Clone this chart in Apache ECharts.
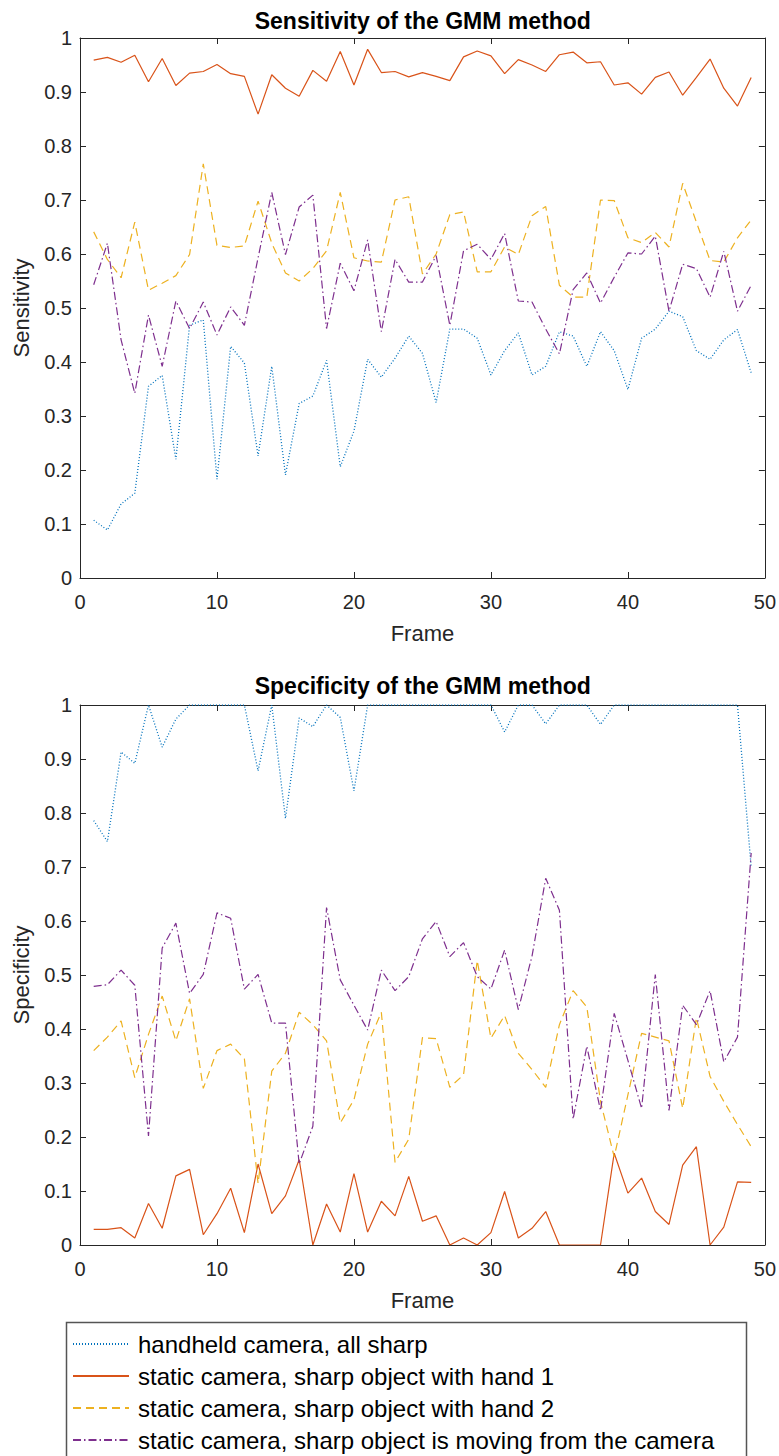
<!DOCTYPE html>
<html><head><meta charset="utf-8">
<script src="https://cdn.jsdelivr.net/npm/echarts@6/dist/echarts.min.js"></script>
<style>html,body{margin:0;padding:0;background:#fff;} #c{width:779px;height:1456px;}</style>
</head><body><div id="c"></div>
<script>
const frames = [1,2,3,4,5,6,7,8,9,10,11,12,13,14,15,16,17,18,19,20,21,22,23,24,25,26,27,28,29,30,31,32,33,34,35,36,37,38,39,40,41,42,43,44,45,46,47,48,49];
const seriesNames = ['handheld camera, all sharp','static camera, sharp object with hand 1','static camera, sharp object with hand 2','static camera, sharp object is moving from the camera'];
const yTicks = ['0','0.1','0.2','0.3','0.4','0.5','0.6','0.7','0.8','0.9','1'];

// Sensitivity
const sensHandheld = [0.107,0.089,0.137,0.157,0.355,0.375,0.220,0.468,0.478,0.183, 0.429,0.398,0.226,0.392,0.191,0.323,0.337,0.403,0.206,0.272, 0.405,0.372,0.407,0.448,0.416,0.325,0.461,0.461,0.444,0.376, 0.421,0.454,0.376,0.392,0.456,0.448,0.392,0.456,0.421,0.349, 0.444,0.461,0.494,0.484,0.421,0.405,0.441,0.460,0.380];
const sensHand1 = [0.959,0.964,0.955,0.968,0.919,0.962,0.912,0.935,0.938,0.951, 0.934,0.929,0.859,0.932,0.907,0.892,0.940,0.920,0.975,0.913, 0.979,0.936,0.938,0.928,0.936,0.929,0.921,0.965,0.976,0.967, 0.934,0.960,0.950,0.938,0.969,0.974,0.954,0.956,0.913,0.917, 0.896,0.927,0.937,0.894,0.927,0.961,0.907,0.874,0.927];
const sensHand2 = [0.641,0.590,0.556,0.659,0.533,0.546,0.560,0.599,0.767,0.616, 0.612,0.615,0.698,0.620,0.565,0.550,0.573,0.606,0.714,0.593, 0.587,0.585,0.700,0.706,0.563,0.600,0.673,0.678,0.567,0.567, 0.613,0.599,0.671,0.688,0.542,0.520,0.520,0.700,0.699,0.630, 0.621,0.640,0.613,0.731,0.659,0.588,0.585,0.630,0.663];
const sensMoving = [0.543,0.620,0.441,0.342,0.487,0.392,0.513,0.462,0.511,0.450, 0.502,0.468,0.593,0.714,0.599,0.687,0.709,0.462,0.583,0.532, 0.626,0.456,0.590,0.548,0.548,0.597,0.468,0.606,0.618,0.590, 0.638,0.513,0.511,0.461,0.415,0.534,0.565,0.509,0.557,0.602, 0.600,0.633,0.494,0.581,0.573,0.520,0.605,0.494,0.542];

// Specificity
const specHandheld = [0.786,0.747,0.913,0.892,1.0,0.922,0.974,1.0,1.0,1.0, 1.0,1.0,0.878,1.0,0.790,0.976,0.960,1.0,0.977,0.841, 1.0,1.0,1.0,1.0,1.0,1.0,1.0,1.0,1.0,1.0, 0.950,1.0,1.0,0.965,1.0,1.0,1.0,0.964,1.0,1.0, 1.0,1.0,1.0,1.0,1.0,1.0,1.0,1.0,0.700];
const specHand1 = [0.029,0.029,0.032,0.013,0.077,0.031,0.128,0.140,0.019,0.058, 0.105,0.023,0.150,0.058,0.091,0.158,0.0,0.076,0.024,0.132, 0.024,0.081,0.054,0.127,0.044,0.054,0.0,0.013,0.0,0.023, 0.099,0.013,0.031,0.062,0.0,0.0,0.0,0.0,0.170,0.096, 0.124,0.062,0.038,0.148,0.182,0.0,0.033,0.117,0.116];
const specHand2 = [0.360,0.385,0.415,0.310,0.390,0.461,0.378,0.456,0.290,0.360, 0.372,0.345,0.114,0.322,0.355,0.431,0.408,0.378,0.226,0.269, 0.372,0.431,0.153,0.196,0.384,0.382,0.292,0.315,0.527,0.383, 0.425,0.355,0.325,0.292,0.408,0.471,0.441,0.266,0.163,0.278, 0.392,0.385,0.378,0.253,0.421,0.312,0.266,0.223,0.182];
const specMoving = [0.479,0.482,0.509,0.481,0.202,0.550,0.596,0.466,0.501,0.615, 0.605,0.474,0.501,0.411,0.411,0.150,0.220,0.625,0.491,0.444, 0.398,0.509,0.471,0.497,0.567,0.599,0.534,0.560,0.497,0.474, 0.546,0.436,0.535,0.679,0.620,0.233,0.368,0.249,0.429,0.342, 0.253,0.501,0.249,0.444,0.408,0.471,0.339,0.385,0.726];

const colors = ['#0072BD','#D95319','#EDB120','#7E2F8E'];
const dashes = [[1,2],'solid',[8,5],[8,3,1.5,3]];
const widths = [1.3,1.2,1.2,1.2];
const FONT = '"Liberation Sans", Arial, Helvetica, sans-serif';
const AX = '#262626';

function xAxis(grid, pos, main) {
  return {
    type:'value', gridIndex:grid, position:pos, min:0, max:50, interval:10,
    axisLine:{show:true, onZero:false, lineStyle:{color:AX, width:1}},
    axisTick:{show:true, inside:true, length:6, lineStyle:{color:AX}},
    axisLabel:{show:main, fontSize:20, color:AX, fontFamily:FONT, margin:14},
    splitLine:{show:false},
    name: main ? 'Frame' : '', nameLocation:'middle', nameGap:44,
    nameTextStyle:{fontSize:22, color:AX, fontFamily:FONT}
  };
}
function yAxis(grid, pos, main, name) {
  return {
    type:'value', gridIndex:grid, position:pos, min:0, max:1, interval:0.1,
    axisLine:{show:true, onZero:false, lineStyle:{color:AX, width:1}},
    axisTick:{show:true, inside:true, length:6, lineStyle:{color:AX}},
    axisLabel:{show:main, fontSize:20, color:AX, fontFamily:FONT, margin:8,
      formatter:(v)=> yTicks[Math.round(v*10)]},
    splitLine:{show:false},
    name: main ? name : '', nameLocation:'middle', nameGap:48,
    nameTextStyle:{fontSize:22, color:AX, fontFamily:FONT}
  };
}
function mk(i, vals, xi, yi) {
  return {
    name: seriesNames[i], type:'line', xAxisIndex:xi, yAxisIndex:yi,
    data: frames.map((f,k)=>[f, vals[k]]),
    symbol:'none', showSymbol:false, smooth:false, animation:false,
    lineStyle:{color:colors[i], width:widths[i], type:dashes[i]},
    itemStyle:{color:colors[i]}
  };
}

const chart = echarts.init(document.getElementById('c'), null, {renderer:'svg'});
chart.setOption({
  animation:false,
  backgroundColor:'#ffffff',
  title:[
    {text:'Sensitivity of the GMM method', left:422.75, top:9, textAlign:'center', padding:0,
     textStyle:{fontSize:23, fontWeight:'bold', color:'#000', fontFamily:FONT}},
    {text:'Specificity of the GMM method', left:422.75, top:674, textAlign:'center', padding:0,
     textStyle:{fontSize:23, fontWeight:'bold', color:'#000', fontFamily:FONT}}
  ],
  grid:[
    {left:80, top:38, width:685, height:540},
    {left:80, top:705, width:685, height:540}
  ],
  xAxis:[xAxis(0,'bottom',true), xAxis(0,'top',false), xAxis(1,'bottom',true), xAxis(1,'top',false)],
  yAxis:[yAxis(0,'left',true,'Sensitivity'), yAxis(0,'right',false,''), yAxis(1,'left',true,'Specificity'), yAxis(1,'right',false,'')],
  legend:{
    orient:'vertical', left:72, top:1332, itemWidth:56, itemHeight:12, itemGap:8, padding:0,
    selectedMode:false, data:seriesNames,
    itemStyle:{opacity:0, borderWidth:0},
    textStyle:{fontSize:24, color:'#000', fontFamily:FONT, lineHeight:24, padding:[0,0,0,4]}
  },
  graphic:[
    {type:'rect', shape:{x:66.5, y:1322.5, width:680, height:200},
     style:{fill:'none', stroke:'#555555', lineWidth:1.5}, silent:true}
  ],
  series:[
    mk(0,sensHandheld,0,0), mk(1,sensHand1,0,0), mk(2,sensHand2,0,0), mk(3,sensMoving,0,0),
    mk(0,specHandheld,2,2), mk(1,specHand1,2,2), mk(2,specHand2,2,2), mk(3,specMoving,2,2)
  ]
});
</script>
</body></html>
